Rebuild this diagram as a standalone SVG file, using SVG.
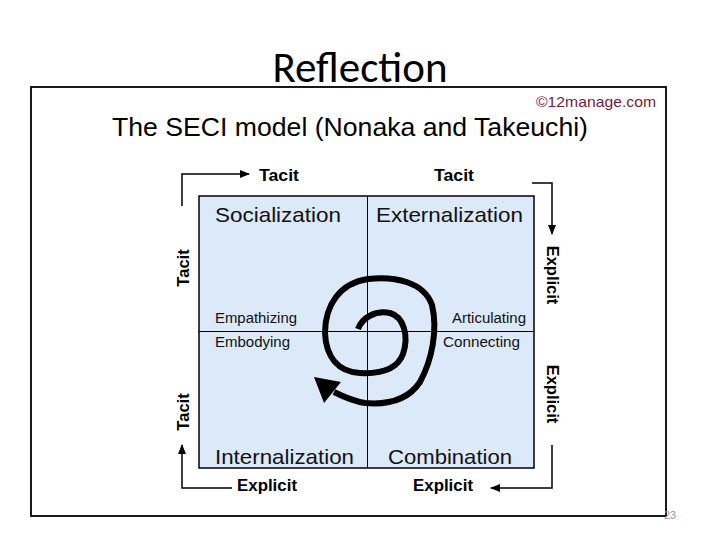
<svg xmlns="http://www.w3.org/2000/svg" width="720" height="540" viewBox="0 0 720 540">
<style>
.ax{font-family:"Liberation Sans",Arial,sans-serif;font-weight:bold;font-size:16.5px;fill:#000}
.q{font-family:"Liberation Sans",Arial,sans-serif;font-size:21px;fill:#111;font-weight:300}
.s{font-family:"Liberation Sans",Arial,sans-serif;font-size:14px;fill:#111}
.ln{fill:none;stroke:#000;stroke-width:1.5}
</style>
<defs>
<marker id="ah" viewBox="0 0 10 10" refX="9" refY="5" markerWidth="10" markerHeight="10" markerUnits="userSpaceOnUse" orient="auto"><path d="M0,1 L10,5 L0,9 Z" fill="#000"/></marker>
</defs>
<rect width="720" height="540" fill="#fff"/>
<text x="360" y="82" text-anchor="middle" font-family="Carlito,'Open Sans','Liberation Sans',sans-serif" font-size="43" fill="#000">Reflection</text>
<rect x="31" y="87" width="635" height="429" fill="#fff" stroke="#000" stroke-width="1.8"/>
<text x="536" y="107" font-family="'Liberation Sans',Arial,sans-serif" font-size="15" fill="#7a1a3c" textLength="120" lengthAdjust="spacingAndGlyphs">©12manage.com</text>
<text x="112" y="136" font-family="'Liberation Sans',Arial,sans-serif" font-size="26" fill="#000" textLength="476" lengthAdjust="spacingAndGlyphs">The SECI model (Nonaka and Takeuchi)</text>
<g id="grid">
<rect x="199" y="196" width="335" height="272" fill="#dce9f8" stroke="#000" stroke-width="1.5"/>
<line x1="367.5" y1="196" x2="367.5" y2="468" stroke="#000" stroke-width="1"/>
<line x1="199" y1="331.5" x2="534" y2="331.5" stroke="#000" stroke-width="1"/>
</g>
<g id="socialization"><text class="q" x="215" y="222" textLength="126" lengthAdjust="spacingAndGlyphs">Socialization</text><text class="s" x="215" y="323" textLength="82" lengthAdjust="spacingAndGlyphs">Empathizing</text></g>
<g id="externalization"><text class="q" x="376" y="222" textLength="147" lengthAdjust="spacingAndGlyphs">Externalization</text><text class="s" x="452" y="323" textLength="74" lengthAdjust="spacingAndGlyphs">Articulating</text></g>
<g id="internalization"><text class="q" x="215" y="464" textLength="139" lengthAdjust="spacingAndGlyphs">Internalization</text><text class="s" x="215" y="347" textLength="75" lengthAdjust="spacingAndGlyphs">Embodying</text></g>
<g id="combination"><text class="q" x="388" y="464" textLength="124" lengthAdjust="spacingAndGlyphs">Combination</text><text class="s" x="443" y="347" textLength="77" lengthAdjust="spacingAndGlyphs">Connecting</text></g>
<g id="labels">
<text class="ax" x="259" y="181" textLength="40" lengthAdjust="spacingAndGlyphs">Tacit</text>
<text class="ax" x="434" y="181" textLength="40" lengthAdjust="spacingAndGlyphs">Tacit</text>
<text class="ax" x="237" y="491" textLength="60" lengthAdjust="spacingAndGlyphs">Explicit</text>
<text class="ax" x="413" y="491" textLength="60" lengthAdjust="spacingAndGlyphs">Explicit</text>
<text class="ax" transform="translate(189,268) rotate(-90)" text-anchor="middle">Tacit</text>
<text class="ax" transform="translate(189,412) rotate(-90)" text-anchor="middle">Tacit</text>
<text class="ax" transform="translate(547,275) rotate(90)" text-anchor="middle">Explicit</text>
<text class="ax" transform="translate(547,394) rotate(90)" text-anchor="middle">Explicit</text>
</g>
<g id="connectors">
<path class="ln" d="M182,206 V174 H249" marker-end="url(#ah)"/>
<path class="ln" d="M532,183 H552 V234" marker-end="url(#ah)"/>
<path class="ln" d="M552,445 V488 H491" marker-end="url(#ah)"/>
<path class="ln" d="M232,488 H182 V445" marker-end="url(#ah)"/>
<path d="M358,329 C362,318 375,310 390,313 C404,317 409,336 403,354 C397,370 380,374 360,373 C338,372 326,357 325,333 C325,305 340,283 368,279 C395,276 424,282 432,305 C438,330 432,360 420,382 C408,400 388,405 365,403 C352,401 342,396 334,392" fill="none" stroke="#000" stroke-width="6" stroke-linecap="butt"/>
<path d="M314,377 L341,382 L324,403 Z" fill="#000"/>
</g>
<text x="664" y="519" font-family="'Liberation Sans',Arial,sans-serif" font-size="11" fill="#999">23</text>
</svg>
